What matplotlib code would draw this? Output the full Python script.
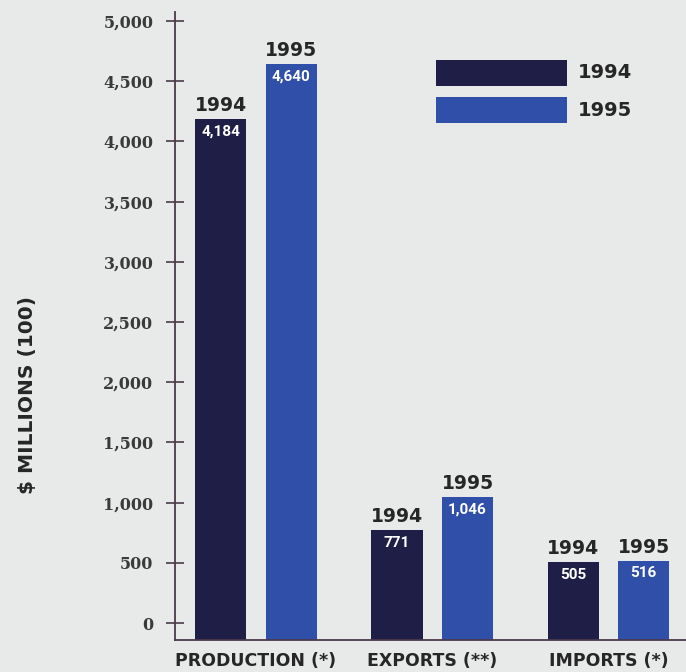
import matplotlib
matplotlib.use("Agg")
import matplotlib.pyplot as plt
from matplotlib.patches import Rectangle
import numpy as np

categories = ["PRODUCTION (*)", "EXPORTS (**)", "IMPORTS (*)"]
years = ["1994", "1995"]
values_1994 = [4184, 771, 505]
values_1995 = [4640, 1046, 516]
yticks = [0, 500, 1000, 1500, 2000, 2500, 3000, 3500, 4000, 4500, 5000]

BG = "#e8eaea"
DARK = "#1f1e47"
BLUE = "#2f4fa8"
AXC = "#4a3a4a"
TXT = "#262626"

fig = plt.figure(figsize=(6.86, 6.72), dpi=100, facecolor=BG)
ax = fig.add_axes([175/686, 1-640/672, 1-175/686, (640-12)/672])
ax.set_facecolor(BG)

ymin, ymax = -141, 5075
ax.set_ylim(ymin, ymax)
ax.set_xlim(-0.46, 2.44)

x = np.arange(len(categories))
off = 0.2
w = 0.29
series = [(values_1994, DARK, -off, years[0]), (values_1995, BLUE, off, years[1])]
for vals, col, o, yr in series:
    vals = np.array(vals)
    ax.bar(x + o, vals - ymin, bottom=ymin, width=w, color=col, zorder=2)
    for xi, v in zip(x + o, vals):
        ax.annotate(f"{v:,}", (xi, v), xytext=(0, -4), textcoords="offset points",
                    ha="center", va="top", color="white", fontsize=11,
                    fontweight="bold", family="Roboto", zorder=3)
        ax.annotate(yr, (xi, v), xytext=(0, 3), textcoords="offset points",
                    ha="center", va="bottom", color=TXT, fontsize=13.5,
                    fontweight="heavy", family="DejaVu Sans", zorder=3)

for s in ["top", "right"]:
    ax.spines[s].set_visible(False)
for s in ["left", "bottom"]:
    ax.spines[s].set_color(AXC)
    ax.spines[s].set_linewidth(1.3)

ax.set_yticks(yticks)
ax.set_yticklabels([f"{t:,}" for t in yticks], family="DejaVu Serif",
                   fontweight="bold", fontsize=11.5, color="#3a3a3a")
ax.tick_params(axis="y", direction="inout", length=13, width=1.2, color=AXC, pad=9)
ax.set_xticks(x)
ax.set_xticklabels(categories, family="DejaVu Sans", fontweight="bold",
                   fontsize=12.5, color=TXT)
ax.tick_params(axis="x", length=0, pad=9)

fig.text(27/686, 1-395/672, "$ MILLIONS (100)", rotation=90, ha="center",
         va="center", family="DejaVu Sans", fontweight="bold", fontsize=14.5,
         color=TXT)

# legend
leg_y = [1-86/672, 1-123/672]
for (vals, col, o, yr), ly in zip(series, leg_y):
    fig.patches.append(Rectangle((436/686, ly), 131/686, 26/672,
                                 transform=fig.transFigure, facecolor=col,
                                 edgecolor="none", figure=fig))
    fig.text(578/686, ly + 13/672, yr, ha="left", va="center",
             family="DejaVu Sans", fontweight="bold", fontsize=14, color=TXT)

fig.savefig("out.png", dpi=100, facecolor=BG)
